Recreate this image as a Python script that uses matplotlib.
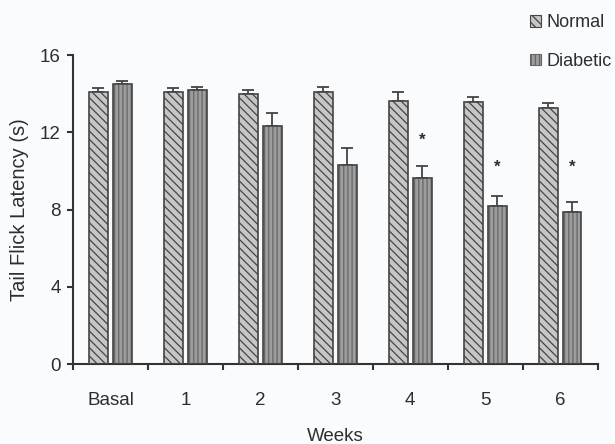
import numpy as np
import matplotlib
matplotlib.use("Agg")
import matplotlib.pyplot as plt
from matplotlib.patches import Patch

# Tail flick latency (s), mean and SEM per time point
categories = ["Basal", "1", "2", "3", "4", "5", "6"]
normal = [14.1, 14.1, 14.0, 14.1, 13.6, 13.55, 13.25]
normal_err = [0.18, 0.18, 0.17, 0.26, 0.48, 0.26, 0.29]
diabetic = [14.5, 14.2, 12.35, 10.3, 9.65, 8.2, 7.85]
diabetic_err = [0.17, 0.16, 0.64, 0.9, 0.62, 0.48, 0.55]
# significance marks (group index, height)
sig_groups = [4, 5, 6]
sig_heights = [11.6, 10.2, 10.2]

font = ["Liberation Sans", "DejaVu Sans"]
txt = "#2e2e2e"
bg = "#fafbfc"

plt.rcParams["hatch.linewidth"] = 0.9

fig = plt.figure(figsize=(6.15, 4.44), dpi=100, facecolor=bg)
ax = fig.add_axes([0.1187, 0.180, 0.853, 0.696])
ax.set_facecolor(bg)

x = np.arange(len(categories))
w = 0.25
off = 0.16

n_face, n_hatch = "#c6c6c6", "#454545"
d_face, d_hatch = "#9d9d9d", "#666666"
edge = "#444444"

ax.bar(x - off, normal, w, color=n_face, edgecolor=n_hatch, hatch="\\\\\\\\", linewidth=0, zorder=2)
ax.bar(x - off, normal, w, fill=False, edgecolor=edge, linewidth=1.2, zorder=3)
ax.bar(x + off, diabetic, w, color=d_face, edgecolor=d_hatch, hatch="||||", linewidth=0, zorder=2)
ax.bar(x + off, diabetic, w, fill=False, edgecolor=edge, linewidth=1.2, zorder=3)

zeros = np.zeros(len(x))
ax.errorbar(x - off, normal, yerr=[zeros, normal_err], fmt="none", ecolor=edge,
            elinewidth=1.3, capsize=4.5, capthick=1.3, zorder=1)
ax.errorbar(x + off, diabetic, yerr=[zeros, diabetic_err], fmt="none", ecolor=edge,
            elinewidth=1.3, capsize=4.5, capthick=1.3, zorder=1)

for g, h in zip(sig_groups, sig_heights):
    ax.text(g + off, h, "*", ha="center", va="center", fontsize=12, color=txt,
            family=font, fontweight="bold")

ax.set_xlim(-0.5, len(categories) - 0.5)
ax.set_ylim(0, 16)
ax.set_yticks([0, 4, 8, 12, 16])
ax.set_xticks(x)
ax.set_xticklabels(categories)
ax.set_xticks(np.arange(-0.5, len(categories), 1.0), minor=True)

for s in ["top", "right"]:
    ax.spines[s].set_visible(False)
for s in ["left", "bottom"]:
    ax.spines[s].set_color("#333333")
    ax.spines[s].set_linewidth(1.5)

ax.tick_params(axis="y", direction="out", length=4, width=1.5, color="#333333",
               pad=5, labelsize=13.5, labelcolor=txt)
ax.tick_params(axis="x", which="major", length=0, pad=20, labelsize=13.5, labelcolor=txt)
ax.tick_params(axis="x", which="minor", direction="out", length=4, width=1.5, color="#333333")
for lab in ax.get_xticklabels() + ax.get_yticklabels():
    lab.set_family(font)

ax.set_xlabel("Weeks", fontsize=13.5, color=txt, family=font)
ax.set_ylabel("Tail Flick Latency (s)", fontsize=14.5, color=txt, family=font)
ax.xaxis.set_label_coords(0.5, -0.208)
ax.yaxis.set_label_coords(-0.084, 0.5)

handles = [Patch(facecolor=n_face, edgecolor=n_hatch, hatch="\\\\\\\\", linewidth=0.8),
           Patch(facecolor=d_face, edgecolor=d_hatch, hatch="||||", linewidth=0.8)]
fig.legend(handles, ["Normal", "Diabetic"], loc="upper left", bbox_to_anchor=(0.862, 0.968),
           frameon=False, handlelength=0.6, handleheight=0.6, handletextpad=0.3,
           labelspacing=1.2, borderaxespad=0, borderpad=0,
           prop={"family": font, "size": 13}, labelcolor=txt)

fig.savefig("out.png", dpi=100, facecolor=bg)
